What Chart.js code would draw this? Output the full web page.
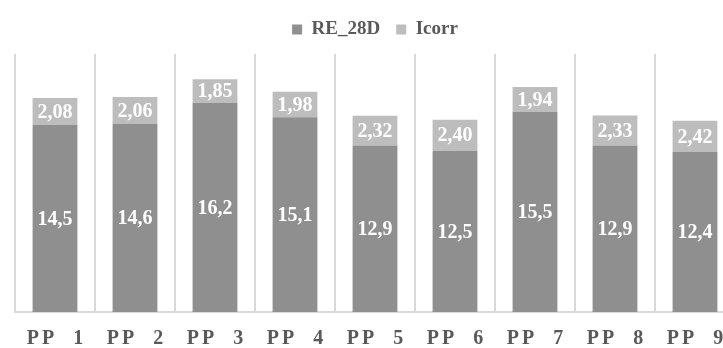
<!DOCTYPE html>
<html>
<head>
<meta charset="utf-8">
<script src="https://cdn.jsdelivr.net/npm/chart.js@4/dist/chart.umd.min.js"></script>
<style>
  html, body { margin: 0; padding: 0; background: #ffffff; overflow: hidden; }
  #wrap { position: absolute; left: 0; top: 0; width: 745px; height: 348px; }
</style>
</head>
<body>
<div id="wrap"><canvas id="c" width="745" height="348"></canvas></div>
<script>
// Categories and series
const categories = ['PP 1', 'PP 2', 'PP 3', 'PP 4', 'PP 5', 'PP 6', 'PP 7', 'PP 8', 'PP 9'];
const re28d = [14.5, 14.6, 16.2, 15.1, 12.9, 12.5, 15.5, 12.9, 12.4];
const icorr = [2.08, 2.06, 1.85, 1.98, 2.32, 2.40, 1.94, 2.33, 2.42];

const SERIF = "'Liberation Serif', 'Times New Roman', Times, serif";
const TEXT_GREY = '#595959';

// Writes each segment's value in the middle of its bar, with a decimal comma
const segmentLabels = {
  id: 'segmentLabels',
  afterDatasetsDraw(chart) {
    const ctx = chart.ctx;
    ctx.save();
    ctx.fillStyle = '#ffffff';
    ctx.font = 'bold 20px ' + SERIF;
    ctx.textAlign = 'center';
    ctx.textBaseline = 'middle';
    chart.data.datasets.forEach((ds, di) => {
      const meta = chart.getDatasetMeta(di);
      meta.data.forEach((bar, i) => {
        const txt = ds.data[i].toFixed(ds.decimals).replace('.', ',');
        ctx.fillText(txt, bar.x, (bar.y + bar.base) / 2 + 1);
      });
    });
    ctx.restore();
  }
};

// Spreads the category labels out, and leaves a gap under the legend
const layoutTweaks = {
  id: 'layoutTweaks',
  afterInit(chart) {
    const lg = chart.legend;
    if (lg && !lg.__gap) {
      const fit = lg.fit.bind(lg);
      lg.fit = function () { fit(); this.height += 5; };
      lg.__gap = true;
    }
  },
  afterLayout(chart) {
    const s = chart.scales.x;
    if (s && !s.__spaced) {
      const orig = s.drawLabels.bind(s);
      s.drawLabels = function (area) {
        const ctx = this.ctx;
        ctx.save();
        ctx.letterSpacing = '3px';
        ctx.translate(1.5, 0);
        orig(area);
        ctx.restore();
      };
      s.__spaced = true;
    }
  }
};

function draw() {
  new Chart(document.getElementById('c'), {
    type: 'bar',
    data: {
      labels: categories,
      datasets: [
        { label: 'RE_28D', data: re28d, decimals: 1, backgroundColor: '#8f8f8f', barPercentage: 0.56, categoryPercentage: 1 },
        { label: 'Icorr', data: icorr, decimals: 2, backgroundColor: '#bdbdbd', barPercentage: 0.56, categoryPercentage: 1 }
      ]
    },
    options: {
      responsive: false,
      animation: false,
      layout: { padding: { left: 15, right: 10, top: 4, bottom: 0 } },
      plugins: {
        tooltip: { enabled: false },
        legend: {
          position: 'top',
          labels: {
            color: TEXT_GREY,
            font: { family: SERIF, size: 19, weight: 'bold' },
            boxWidth: 10,
            boxHeight: 10,
            padding: 16
          }
        }
      },
      scales: {
        x: {
          stacked: true,
          grid: { color: '#d9d9d9', lineWidth: 2, drawTicks: false, offset: true },
          border: { color: '#d9d9d9', width: 2 },
          ticks: {
            color: TEXT_GREY,
            font: { family: SERIF, size: 20, weight: 'bold' },
            padding: 15,
            maxRotation: 0,
            autoSkip: false,
            // wider gap before the number
            callback: (v, i) => categories[i].replace(' ', '  ')
          },
          afterFit(scale) { scale.height = 36; }
        },
        y: {
          stacked: true,
          display: false,
          min: 0,
          max: 20
        }
      }
    },
    plugins: [segmentLabels, layoutTweaks]
  });
}

Promise.all([
  document.fonts.load("bold 20px 'Liberation Serif'"),
  document.fonts.load("bold 19px 'Liberation Serif'")
]).then(draw, draw);
</script>
</body>
</html>
